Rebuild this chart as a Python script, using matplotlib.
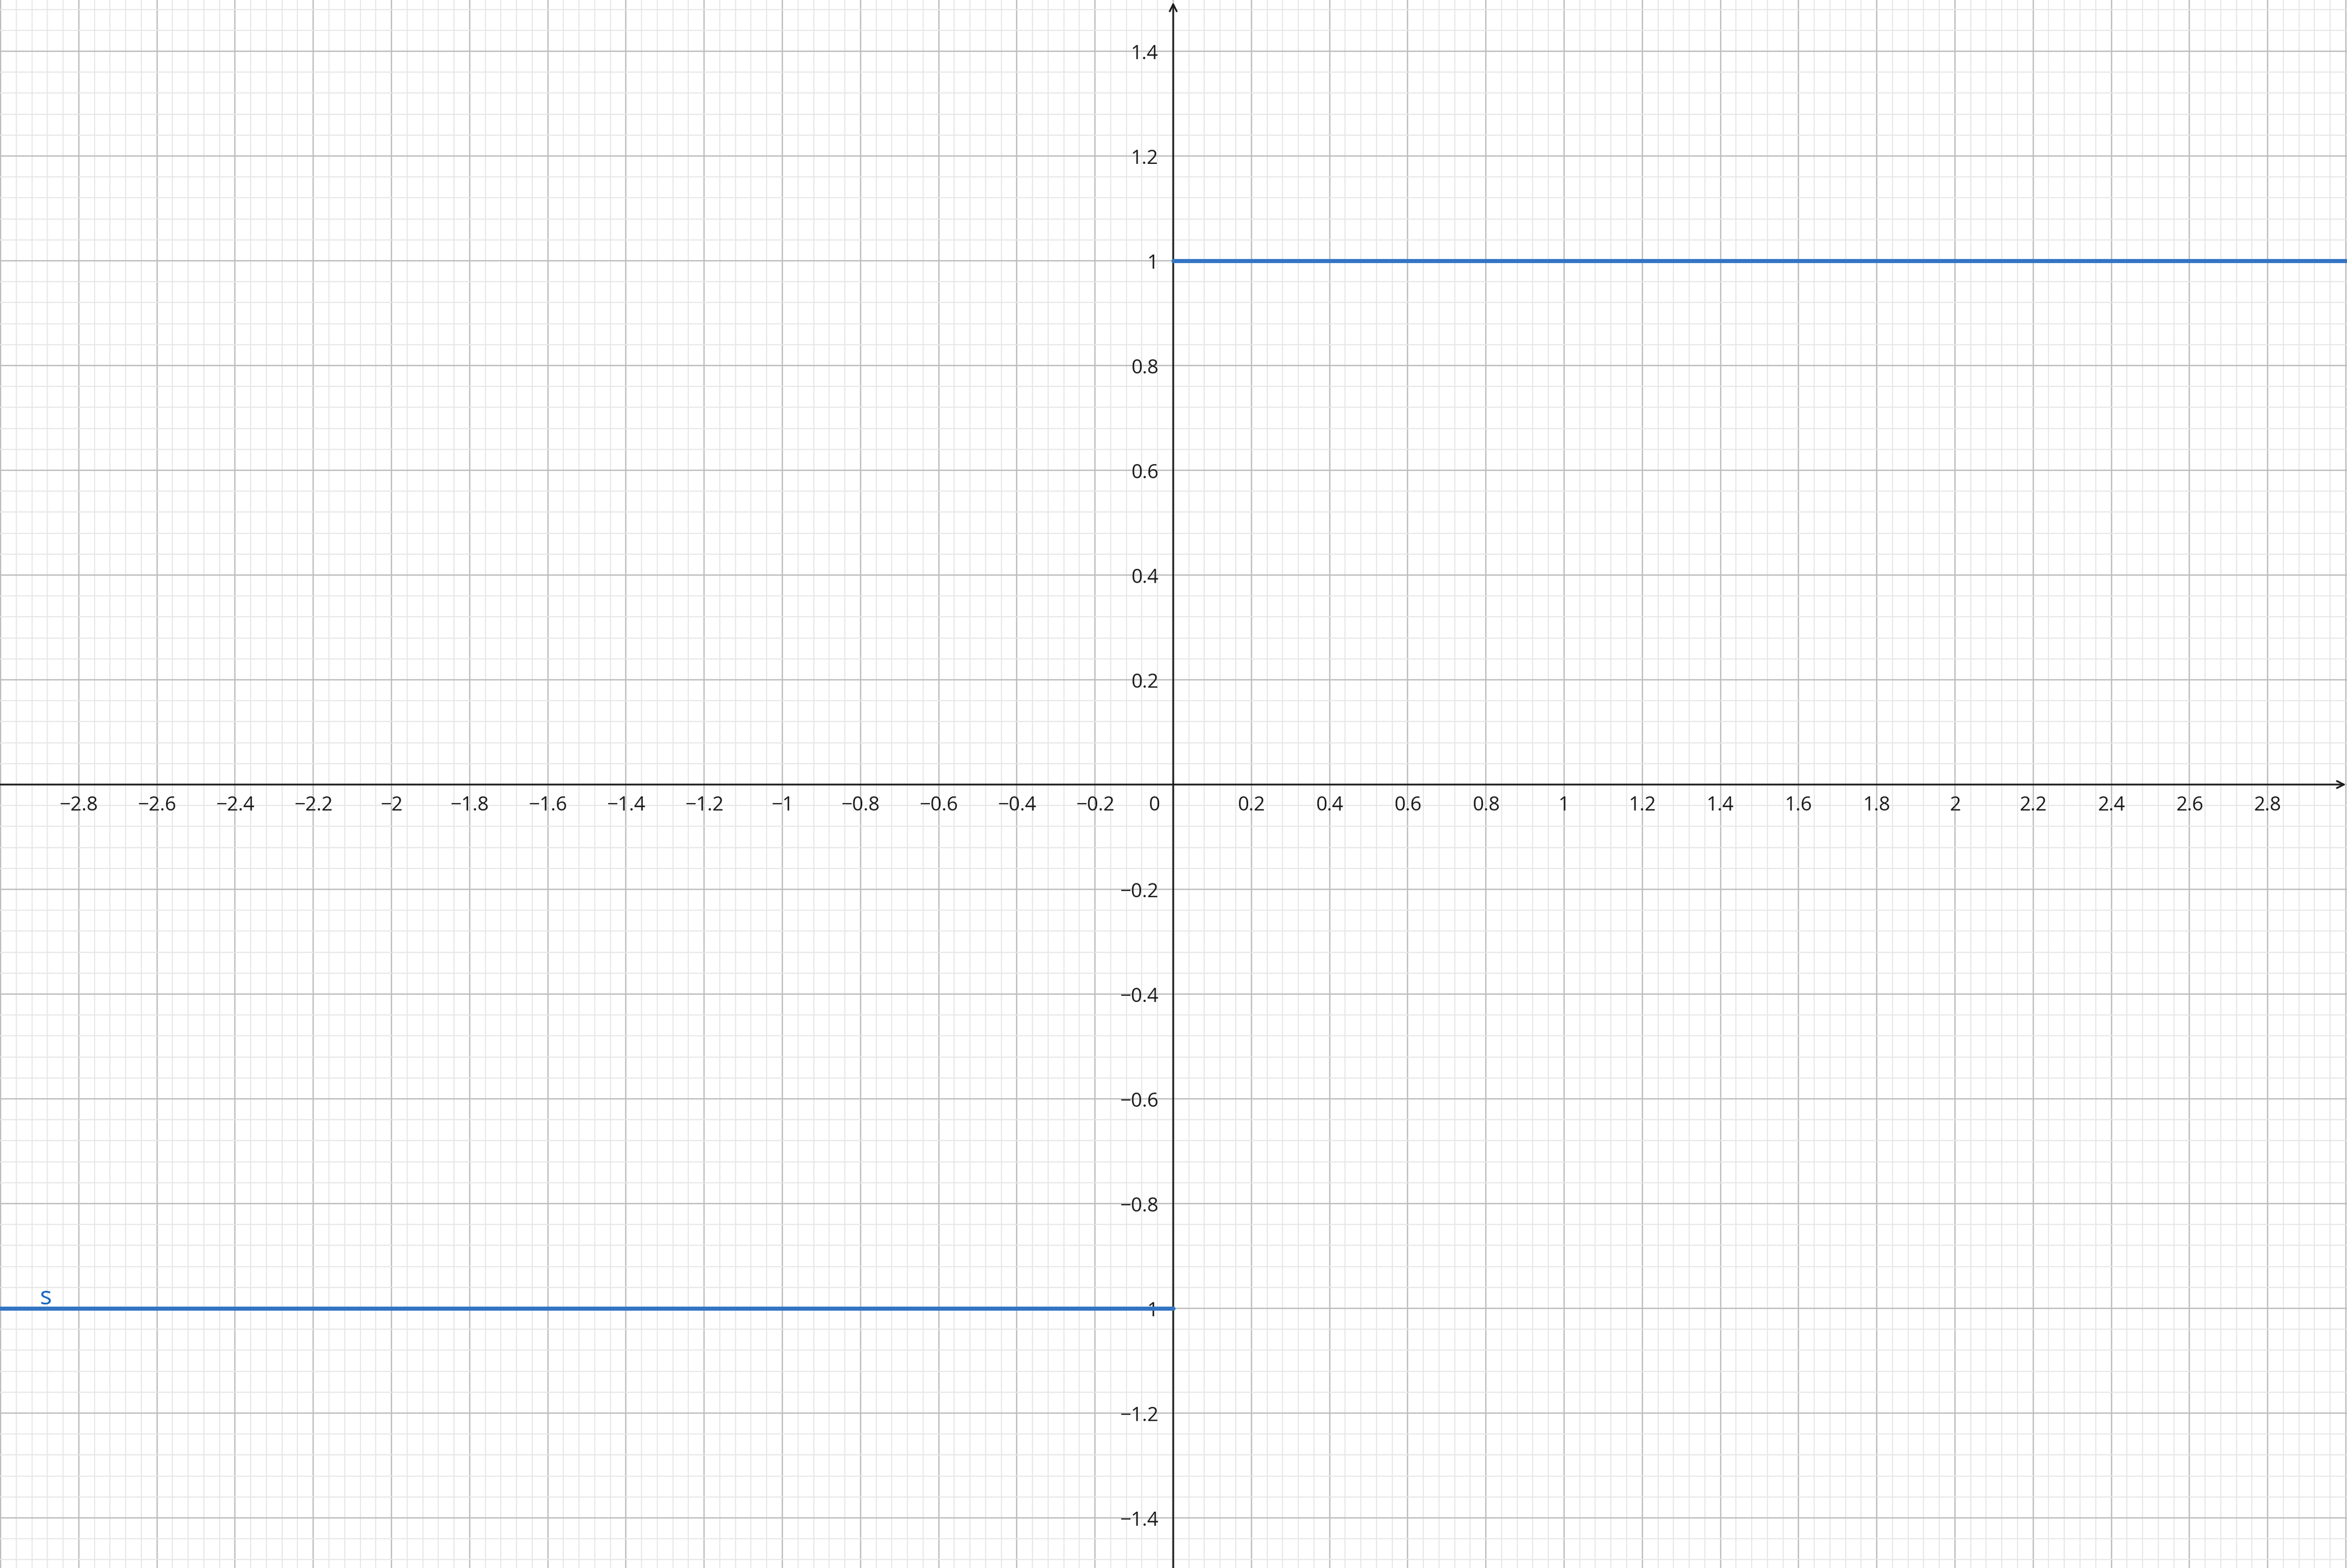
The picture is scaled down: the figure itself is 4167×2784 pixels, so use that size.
import numpy as np
import matplotlib
matplotlib.use('Agg')
import matplotlib.pyplot as plt
from matplotlib.ticker import MultipleLocator

plt.rcParams['font.family'] = ['Open Sans', 'DejaVu Sans']

# step function s(x): -1 for x<0, 1 for x>0
neg_x = [-3.2, 0]
neg_y = [-1, -1]
pos_x = [0, 3.2]
pos_y = [1, 1]

x_ticks = [-2.8, -2.6, -2.4, -2.2, -2, -1.8, -1.6, -1.4, -1.2, -1, -0.8, -0.6, -0.4, -0.2,
           0.2, 0.4, 0.6, 0.8, 1, 1.2, 1.4, 1.6, 1.8, 2, 2.2, 2.4, 2.6, 2.8]
y_ticks = [-1.4, -1.2, -1, -0.8, -0.6, -0.4, -0.2, 0.2, 0.4, 0.6, 0.8, 1, 1.2, 1.4]


def fmt(v):
    return ('%g' % v).replace('-', '\u2212')


fig = plt.figure(figsize=(41.67, 27.84), dpi=100)
ax = fig.add_axes([0, 0, 1, 1])
ax.set_xlim(-3.0015, 3.003)
ax.set_ylim(-1.4957, 1.4978)

ax.xaxis.set_major_locator(MultipleLocator(0.2))
ax.xaxis.set_minor_locator(MultipleLocator(0.04))
ax.yaxis.set_major_locator(MultipleLocator(0.2))
ax.yaxis.set_minor_locator(MultipleLocator(0.04))
ax.grid(which='minor', color='#e6e6e6', lw=1.3, zorder=0)
ax.grid(which='major', color='#bdbdbd', lw=1.7, zorder=0.5)
ax.set_axisbelow(True)
ax.tick_params(which='both', length=0, labelbottom=False, labelleft=False)
for sp in ax.spines.values():
    sp.set_visible(False)

# axes with open arrow heads
arrow = dict(arrowstyle='->,head_length=0.9,head_width=0.45', color='#1a1a1a', lw=2.2,
             shrinkA=0, shrinkB=0)
ax.annotate('', xy=(0.9995, 0), xytext=(0, 0), xycoords=('axes fraction', 'data'),
            textcoords=('axes fraction', 'data'), arrowprops=arrow, zorder=3)
ax.annotate('', xy=(0, 0.9985), xytext=(0, 0), xycoords=('data', 'axes fraction'),
            textcoords=('data', 'axes fraction'), arrowprops=arrow, zorder=3)

# tick labels
for v in x_ticks:
    ax.annotate(fmt(v), (v, 0), xytext=(0, -33), textcoords='offset points',
                ha='center', va='baseline', fontsize=25, color='#1a1a1a', zorder=2)
for v in y_ticks:
    ax.annotate(fmt(v), (0, v), xytext=(-19, -10), textcoords='offset points',
                ha='right', va='baseline', fontsize=25, color='#1a1a1a', zorder=2)
ax.annotate('0', (0, 0), xytext=(-17, -33), textcoords='offset points',
            ha='right', va='baseline', fontsize=25, color='#1a1a1a', zorder=2)

# function
ax.plot(neg_x, neg_y, color='#3374c4', lw=5.2, solid_capstyle='round', zorder=4)
ax.plot(pos_x, pos_y, color='#3374c4', lw=5.2, solid_capstyle='round', zorder=4)
ax.text(-2.9, -0.993, 's', color='#1565c0', fontsize=32, ha='left', va='baseline', zorder=5)

fig.savefig('out.png', dpi=100)
